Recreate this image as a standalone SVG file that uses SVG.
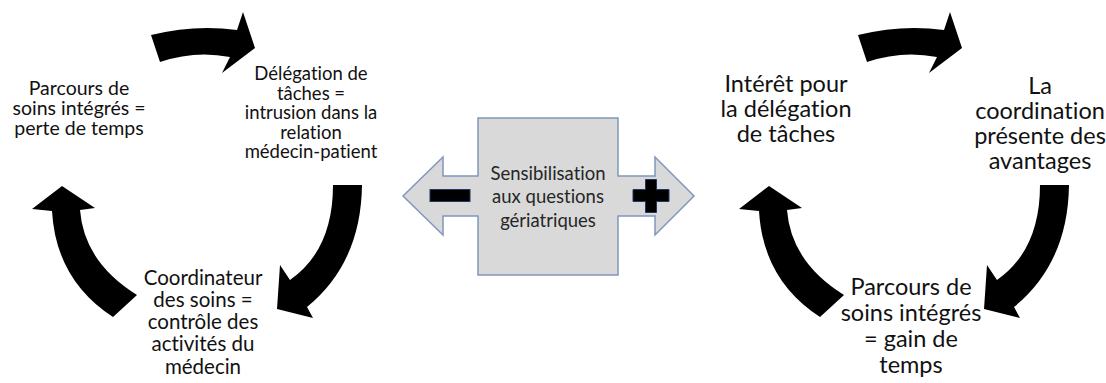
<svg xmlns="http://www.w3.org/2000/svg" width="1106" height="383" viewBox="0 0 1106 383">
  <style>
    .t { font-family: Lato, "Liberation Sans", sans-serif; fill: #111; text-anchor: middle; font-variant-ligatures: none; font-feature-settings: "liga" 0, "clig" 0; }
    .s19 { font-size: 18.5px; }
    .s20 { font-size: 19.5px; }
    .s21 { font-size: 20.5px; }
    .s24 { font-size: 23.5px; }
    .c { fill: #262626; font-size: 18.5px; }
    .arrow { fill: #000; stroke: none; }
    .center { fill: #d9d9d9; stroke: #8096bc; stroke-width: 1.5; }
    .sign { fill: #000; stroke: #1f3864; stroke-width: 1; }
  </style>
  <defs>
    <path id="arrTop" d="M151,35 Q195,24 237,30 L243,12 L255,48 L222,73 L230,57 Q195,50 160,62 Z"/>
    <path id="arrRight" d="M333,185 L362,185 Q361,263 307,307 L313,318 L277,309 L280,265 L290,280 Q333,250 333,185 Z"/>
    <path id="arrLeft" d="M113,317 L137,295 Q84,262 80,210 L95,208 L62,186 L32,209 L52,211 Q56,280 113,317 Z"/>
  </defs>
  <rect width="1106" height="383" fill="#fff"/>

  <g id="connectors">
    <use href="#arrTop" class="arrow"/>
    <use href="#arrRight" class="arrow"/>
    <use href="#arrLeft" class="arrow"/>
    <use href="#arrTop" class="arrow" transform="translate(707,0)"/>
    <use href="#arrRight" class="arrow" transform="translate(707,0)"/>
    <use href="#arrLeft" class="arrow" transform="translate(707,0)"/>
  </g>

  <g id="node-parcours-perte">
    <text class="t s20" x="79" y="95">Parcours de</text>
    <text class="t s20" x="79" y="115">soins intégrés =</text>
    <text class="t s20" x="79" y="135">perte de temps</text>
  </g>

  <g id="node-delegation-intrusion">
    <text class="t s19" x="311" y="80">Délégation de</text>
    <text class="t s19" x="311" y="99.5">tâches =</text>
    <text class="t s19" x="311" y="119">intrusion dans la</text>
    <text class="t s19" x="311" y="138.5">relation</text>
    <text class="t s19" x="311" y="158">médecin-patient</text>
  </g>

  <g id="node-coordinateur">
    <text class="t s21" x="203" y="285">Coordinateur</text>
    <text class="t s21" x="203" y="307">des soins =</text>
    <text class="t s21" x="203" y="329">contrôle des</text>
    <text class="t s21" x="203" y="351">activités du</text>
    <text class="t s21" x="203" y="374">médecin</text>
  </g>

  <g id="node-sensibilisation">
    <path class="center" d="M478,118 L618,118 L618,176 L655,176 L655,157 L694,196 L655,235 L655,216 L618,216 L618,275 L478,275 L478,216 L443,216 L443,235 L403,196 L443,157 L443,176 L478,176 Z"/>
    <rect class="sign" x="430" y="189.5" width="40" height="12"/>
    <path class="sign" d="M645.5,179.5 H656.5 V189.5 H669 V201.5 H656.5 V212.5 H645.5 V201.5 H633 V189.5 H645.5 Z"/>
    <text class="t c" x="548" y="179.5">Sensibilisation</text>
    <text class="t c" x="548" y="203">aux questions</text>
    <text class="t c" x="548" y="226.5">gériatriques</text>
  </g>

  <g id="node-interet">
    <text class="t s24" x="786" y="92">Intérêt pour</text>
    <text class="t s24" x="786" y="117">la délégation</text>
    <text class="t s24" x="786" y="142">de tâches</text>
  </g>

  <g id="node-coordination">
    <text class="t s24" x="1040" y="94">La</text>
    <text class="t s24" x="1040" y="119">coordination</text>
    <text class="t s24" x="1040" y="144">présente des</text>
    <text class="t s24" x="1040" y="169">avantages</text>
  </g>

  <g id="node-parcours-gain">
    <text class="t s24" x="911" y="295">Parcours de</text>
    <text class="t s24" x="911" y="321">soins intégrés</text>
    <text class="t s24" x="911" y="347">= gain de</text>
    <text class="t s24" x="911" y="373">temps</text>
  </g>
</svg>
